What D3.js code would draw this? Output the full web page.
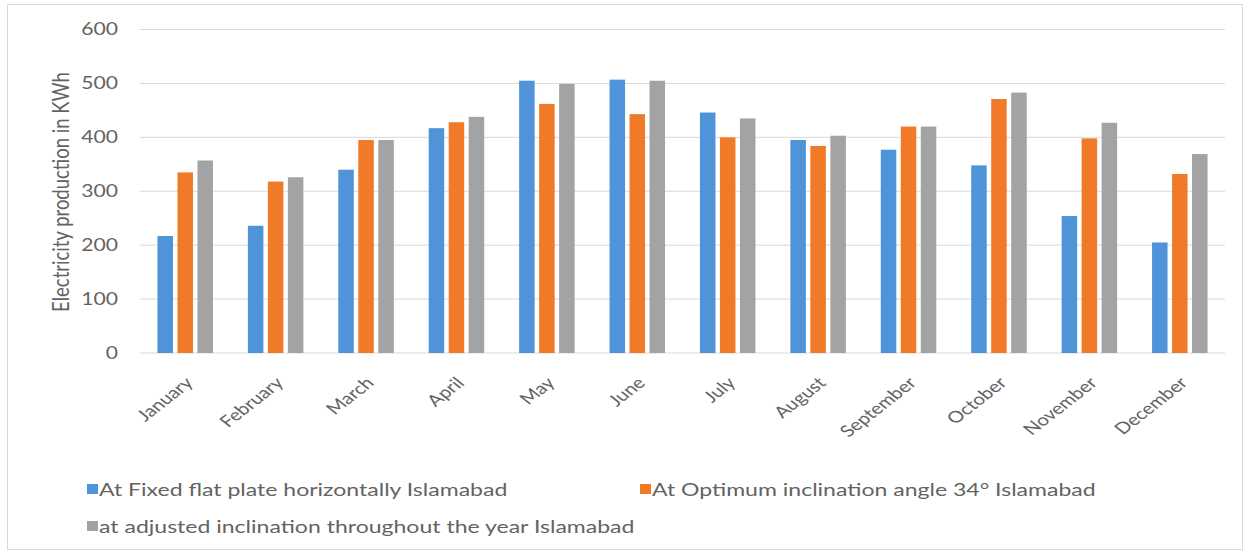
<!DOCTYPE html>
<html>
<head>
<meta charset="utf-8">
<script src="https://cdn.jsdelivr.net/npm/d3@7"></script>
<style>
  html, body { margin: 0; padding: 0; background: #fff; }
  svg { display: block; }
  text { font-family: Lato, "Open Sans", sans-serif; fill: #636363; }
</style>
</head>
<body>
<svg id="chart" width="1251" height="556"></svg>
<script>
// Monthly electricity production (kWh), Islamabad
const months = ["January", "February", "March", "April", "May", "June",
  "July", "August", "September", "October", "November", "December"];
const fixedFlat = [217, 236, 340, 417, 505, 507, 446, 395, 377, 348, 254, 205];
const optimumAngle = [335, 318, 395, 428, 462, 443, 400, 384, 420, 471, 398, 332];
const adjustedYear = [357, 326, 395, 438, 499, 505, 435, 403, 420, 483, 427, 369];
const seriesNames = [
  "At Fixed flat plate horizontally Islamabad",
  "At Optimum inclination angle 34° Islamabad",
  "at adjusted inclination throughout the year Islamabad"
];
const yTicks = [0, 100, 200, 300, 400, 500, 600];

const colors = ["#4f93d8", "#f07a28", "#a3a3a3"];
const series = [fixedFlat, optimumAngle, adjustedYear];

// the whole figure is drawn wider than tall, so text is stretched horizontally
const SX = 1.28;

const svg = d3.select("#chart");

// outer frame
svg.append("rect")
  .attr("x", 7.5).attr("y", 4.5)
  .attr("width", 1235).attr("height", 545)
  .attr("fill", "#fff").attr("stroke", "#d9d9d9");

const plot = { left: 140, right: 1225, top: 29.5, bottom: 353 };

const x = d3.scaleBand().domain(months).range([plot.left, plot.right]).paddingInner(0).paddingOuter(0);
const y = d3.scaleLinear().domain([0, 600]).range([plot.bottom, plot.top]);
const barW = 15.5, step = 20;

// gridlines
svg.append("g").selectAll("line").data(yTicks).join("line")
  .attr("x1", plot.left).attr("x2", plot.right)
  .attr("y1", d => y(d)).attr("y2", d => y(d))
  .attr("stroke", "#d9d9d9").attr("stroke-width", 1);

// y axis labels
const yAxis = d3.axisLeft(y).tickValues(yTicks).tickSize(0).tickPadding(0);
const yg = svg.append("g").attr("transform", `translate(118,0)`).call(yAxis);
yg.select(".domain").remove();
yg.selectAll("text")
  .attr("font-size", 16.5).attr("font-family", "Lato, sans-serif").attr("fill", "#636363")
  .attr("transform", `scale(${SX},1)`);

// bars
series.forEach((vals, si) => {
  svg.append("g").selectAll("rect").data(vals).join("rect")
    .attr("x", (d, i) => x(months[i]) + x.bandwidth() / 2 + (si - 1) * step - barW / 2)
    .attr("y", d => y(d))
    .attr("width", barW)
    .attr("height", d => y(0) - y(d))
    .attr("fill", colors[si]);
});

// x axis labels
const xAxis = d3.axisBottom(x).tickSize(0).tickPadding(0);
const xg = svg.append("g").attr("transform", `translate(0,${plot.bottom})`).call(xAxis);
xg.select(".domain").remove();
xg.selectAll("text")
  .attr("font-size", 16).attr("font-family", "Lato, sans-serif").attr("fill", "#636363")
  .attr("text-anchor", "end")
  .attr("dy", "0.35em")
  .attr("y", 0)
  .attr("transform", `translate(4,27) scale(${SX},1) rotate(-45)`);

// y axis title
svg.append("text")
  .attr("transform", `translate(61,192) scale(${SX},1) rotate(-90)`)
  .attr("text-anchor", "middle")
  .attr("dy", "0.35em")
  .attr("font-size", 18.5)
  .text("Electricity production in KWh");

// legend
const legendPos = [[87, 490], [640, 490], [87, 527]];
seriesNames.forEach((name, i) => {
  const [lx, ly] = legendPos[i];
  svg.append("rect").attr("x", lx).attr("y", ly - 6).attr("width", 11).attr("height", 10).attr("fill", colors[i]);
  svg.append("text")
    .attr("transform", `translate(${lx + 12},${ly}) scale(${SX},1)`)
    .attr("dy", "0.35em")
    .attr("font-size", 18).text(name);
});
</script>
</body>
</html>
